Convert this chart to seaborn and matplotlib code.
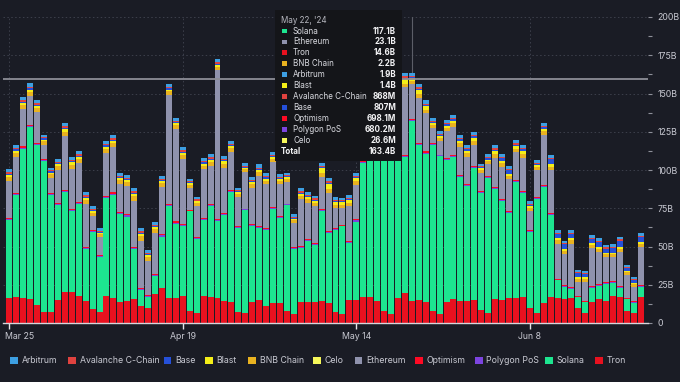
import numpy as np
import pandas as pd
import matplotlib
matplotlib.use("Agg")
import matplotlib.pyplot as plt
import matplotlib.transforms as mtransforms
import seaborn as sns
from matplotlib.patches import Rectangle

# ---------------- data ----------------
dates = pd.date_range("2024-03-25", "2024-06-24", freq="D")
date_labels = [d.strftime("%Y-%m-%d") for d in dates]

xtick_pos = [0, 25, 50, 75]
xtick_labels = ["Mar 25", "Apr 19", "May 14", "Jun 8"]
ytick_vals = [0, 25, 50, 75, 100, 125, 150, 175, 200]
ytick_labels = ["0", "25B", "50B", "75B", "100B", "125B", "150B", "175B", "200B"]

tron = [16.2, 16.8, 16.6, 15.5, 11.8, 7.4, 7.4, 15.0, 20.5, 20.5,
        17.7, 14.6, 9.0, 7.4, 17.7, 16.2, 14.0, 14.6, 15.5, 11.4,
        9.6, 18.8, 23.1, 16.2, 16.2, 17.7, 8.1, 6.8, 17.7, 16.8,
        16.2, 14.6, 14.0, 7.4, 6.8, 14.0, 15.0, 11.1, 12.9, 13.3,
        8.1, 5.7, 14.0, 14.0, 14.0, 14.6, 13.3, 7.4, 5.9, 15.0,
        15.0, 16.8, 17.2, 14.6, 8.1, 5.9, 16.2, 19.4, 14.6, 15.1,
        14.0, 8.1, 5.9, 14.0, 15.5, 14.6, 14.6, 15.1, 8.5, 6.8,
        15.5, 15.1, 16.2, 16.2, 16.8, 9.6, 6.8, 13.3, 16.8, 16.2,
        15.5, 16.2, 9.6, 6.8, 14.0, 15.5, 14.6, 17.7, 17.2, 8.1,
        6.3, 16.8]
solana = [51.3, 67.0, 97.2, 112.4, 104.4, 98.3, 76.4, 62.2, 64.8, 52.4,
          60.3, 33.8, 50.4, 36.0, 64.0, 67.7, 57.4, 55.0, 33.0, 10.3,
          7.2, 11.6, 33.4, 60.0, 48.7, 45.9, 64.8, 48.3, 49.3, 59.4,
          50.2, 56.1, 71.4, 54.6, 66.8, 49.1, 46.9, 49.8, 61.3, 55.2,
          68.8, 42.6, 34.9, 39.7, 37.1, 58.3, 45.4, 53.5, 57.2, 37.1,
          51.3, 88.0, 95.0, 100.0, 108.0, 105.0, 100.0, 89.2, 117.1, 101.0,
          96.7, 108.5, 103.0, 92.4, 93.0, 80.8, 75.1, 86.2, 76.4, 88.0,
          72.0, 64.4, 55.7, 75.8, 68.1, 50.2, 74.2, 75.3, 53.9, 11.6,
          8.3, 5.9, 7.2, 6.6, 8.7, 8.7, 10.9, 8.3, 5.5, 7.4,
          7.0, 7.0]
polygon = [0.7, 0.7, 0.8, 0.8, 0.7, 0.6, 0.6, 0.7, 0.8, 0.7,
           0.7, 0.7, 0.6, 0.6, 0.7, 0.7, 0.7, 0.7, 0.7, 0.6,
           0.6, 0.7, 0.7, 0.8, 0.7, 0.7, 0.6, 0.6, 0.7, 0.7,
           0.8, 0.7, 0.7, 0.6, 0.6, 0.7, 0.7, 0.7, 0.7, 0.7,
           0.6, 0.6, 0.7, 0.7, 0.7, 0.7, 0.7, 0.6, 0.6, 0.7,
           0.7, 0.7, 0.7, 0.7, 0.6, 0.6, 0.7, 0.7, 0.7, 0.7,
           0.7, 0.6, 0.6, 0.7, 0.7, 0.7, 0.7, 0.7, 0.6, 0.6,
           0.7, 0.7, 0.7, 0.7, 0.7, 0.6, 0.6, 0.7, 0.7, 0.6,
           0.6, 0.6, 0.5, 0.5, 0.6, 0.6, 0.6, 0.6, 0.6, 0.5,
           0.5, 0.6]
optimism = [0.7, 0.7, 0.8, 0.8, 0.7, 0.6, 0.6, 0.7, 0.8, 0.7,
            0.7, 0.7, 0.6, 0.6, 0.7, 0.7, 0.7, 0.7, 0.7, 0.6,
            0.6, 0.7, 0.7, 0.8, 0.8, 0.7, 0.6, 0.6, 0.7, 0.7,
            0.8, 0.7, 0.7, 0.6, 0.6, 0.7, 0.7, 0.7, 0.7, 0.7,
            0.6, 0.6, 0.7, 0.7, 0.7, 0.7, 0.7, 0.6, 0.6, 0.7,
            0.7, 0.7, 0.7, 0.7, 0.6, 0.6, 0.7, 0.8, 0.7, 0.7,
            0.7, 0.6, 0.6, 0.7, 0.7, 0.7, 0.7, 0.7, 0.6, 0.6,
            0.7, 0.7, 0.7, 0.7, 0.7, 0.6, 0.6, 0.7, 0.7, 0.6,
            0.6, 0.6, 0.5, 0.5, 0.6, 0.6, 0.6, 0.6, 0.6, 0.5,
            0.5, 0.6]
ethereum = [24.0, 23.4, 24.2, 18.6, 20.0, 9.4, 9.8, 21.2, 35.0, 26.2,
            24.9, 27.7, 9.2, 11.4, 28.0, 29.5, 17.9, 18.6, 29.9, 31.0,
            22.3, 26.9, 31.0, 71.0, 60.5, 42.1, 14.2, 20.0, 32.0, 25.0,
            97.2, 29.5, 24.7, 19.0, 24.0, 24.0, 32.8, 28.4, 29.9, 20.7,
            14.2, 15.9, 30.6, 23.4, 24.0, 21.2, 25.1, 13.1, 10.9, 22.9,
            22.5, 20.0, 22.0, 22.0, 20.0, 22.0, 28.0, 44.0, 23.1, 29.5,
            24.9, 9.8, 8.7, 17.5, 17.9, 18.3, 17.5, 13.8, 12.0, 7.6,
            19.2, 21.2, 20.7, 18.1, 21.8, 12.0, 18.1, 33.0, 27.7, 22.7,
            20.1, 28.6, 9.2, 12.7, 25.1, 21.0, 16.2, 15.7, 22.5, 14.8,
            9.4, 24.5]
celo = [0.03, 0.03, 0.03, 0.03, 0.03, 0.02, 0.02, 0.03, 0.03, 0.03,
        0.03, 0.03, 0.02, 0.02, 0.03, 0.03, 0.03, 0.03, 0.03, 0.02,
        0.02, 0.03, 0.03, 0.03, 0.03, 0.03, 0.02, 0.02, 0.03, 0.03,
        0.03, 0.03, 0.03, 0.02, 0.02, 0.03, 0.03, 0.03, 0.03, 0.03,
        0.02, 0.02, 0.03, 0.03, 0.03, 0.03, 0.03, 0.02, 0.02, 0.03,
        0.03, 0.03, 0.03, 0.03, 0.02, 0.02, 0.03, 0.03, 0.03, 0.03,
        0.03, 0.02, 0.02, 0.03, 0.03, 0.03, 0.03, 0.03, 0.02, 0.02,
        0.03, 0.03, 0.03, 0.03, 0.03, 0.02, 0.02, 0.03, 0.03, 0.03,
        0.03, 0.03, 0.02, 0.02, 0.03, 0.03, 0.03, 0.03, 0.03, 0.02,
        0.02, 0.03]
bnb = [2.6, 2.8, 2.9, 3.0, 2.9, 2.5, 2.4, 2.7, 3.2, 3.0,
       2.9, 2.8, 2.2, 2.1, 2.8, 2.9, 2.6, 2.5, 2.9, 2.8,
       2.6, 2.5, 2.4, 2.5, 2.4, 2.6, 2.0, 2.1, 2.4, 2.6,
       2.2, 2.5, 2.6, 2.1, 1.8, 2.2, 2.4, 2.3, 1.9, 2.1,
       1.9, 1.8, 2.2, 2.2, 2.1, 2.3, 2.4, 2.0, 1.9, 2.2,
       2.3, 2.2, 2.3, 2.2, 2.0, 2.0, 2.3, 2.4, 2.2, 2.6,
       2.4, 2.0, 2.0, 2.3, 2.6, 2.5, 2.4, 2.5, 1.9, 2.0,
       2.4, 2.3, 2.1, 2.4, 2.5, 2.0, 1.8, 2.3, 2.4, 2.2,
       1.9, 2.1, 2.0, 1.8, 2.0, 2.1, 1.9, 1.9, 1.9, 1.8,
       1.7, 1.9]
blast = [1.2, 1.3, 1.3, 1.4, 1.3, 1.1, 1.1, 1.3, 1.5, 1.4,
         1.3, 1.4, 1.1, 1.0, 1.3, 1.4, 1.2, 1.2, 1.6, 1.6,
         1.4, 1.3, 1.2, 1.2, 1.2, 1.4, 1.0, 1.0, 1.3, 1.4,
         1.2, 1.5, 1.4, 1.1, 1.0, 1.3, 1.4, 1.4, 1.0, 1.2,
         1.0, 1.0, 1.3, 1.3, 1.2, 3.4, 3.2, 2.0, 1.9, 1.6,
         2.0, 1.6, 1.6, 1.5, 1.4, 1.4, 1.6, 2.8, 1.4, 2.6,
         2.2, 1.2, 1.2, 1.4, 1.8, 1.6, 1.6, 1.8, 1.0, 1.2,
         1.6, 1.4, 1.3, 1.5, 1.6, 1.2, 0.9, 1.4, 1.6, 1.4,
         1.2, 1.4, 1.3, 1.1, 1.3, 1.3, 1.2, 1.2, 1.3, 1.0,
         1.0, 1.2]
base = [0.8, 0.8, 0.9, 0.9, 0.8, 0.7, 0.7, 0.8, 0.9, 0.8,
        0.8, 0.8, 0.7, 0.6, 0.8, 0.8, 0.8, 0.8, 0.8, 0.7,
        0.7, 0.8, 0.8, 0.9, 0.8, 0.8, 0.6, 0.6, 0.8, 0.8,
        0.8, 0.8, 0.8, 0.6, 0.6, 0.8, 0.8, 0.8, 0.8, 0.8,
        0.6, 0.6, 0.8, 0.8, 0.8, 0.8, 0.8, 0.6, 0.6, 0.8,
        0.8, 0.8, 0.8, 0.8, 0.7, 0.7, 0.8, 0.9, 0.8, 0.9,
        0.9, 0.7, 0.7, 0.9, 1.0, 1.0, 1.0, 1.1, 0.8, 0.9,
        1.2, 2.0, 2.5, 1.2, 1.2, 1.0, 1.0, 1.2, 3.2, 2.8,
        3.2, 2.6, 2.2, 1.8, 2.6, 3.2, 2.6, 3.0, 4.2, 1.6,
        1.5, 3.6]
avalanche = [0.9, 0.9, 1.0, 1.0, 0.9, 0.8, 0.8, 0.9, 1.0, 0.9,
             0.9, 0.9, 0.8, 0.7, 0.9, 0.9, 0.9, 0.9, 0.9, 0.8,
             0.8, 0.9, 0.9, 1.0, 0.9, 0.9, 0.7, 0.7, 0.9, 0.9,
             0.9, 0.9, 0.9, 0.7, 0.7, 0.9, 0.9, 0.9, 0.9, 0.9,
             0.7, 0.7, 0.9, 0.9, 0.9, 0.9, 0.9, 0.7, 0.7, 0.9,
             0.9, 0.9, 0.9, 0.9, 0.8, 0.8, 0.9, 0.9, 0.868, 0.9,
             0.9, 0.8, 0.8, 0.9, 0.9, 0.9, 0.9, 0.9, 0.8, 0.8,
             0.9, 0.9, 0.9, 0.9, 0.9, 0.8, 0.8, 0.9, 0.9, 0.8,
             0.8, 0.8, 0.7, 0.7, 0.8, 0.8, 0.8, 0.8, 0.8, 0.7,
             0.7, 0.8]
arbitrum = [1.9, 2.0, 2.1, 2.2, 2.1, 1.7, 1.6, 1.9, 2.3, 2.1,
            2.0, 2.1, 1.6, 1.5, 2.0, 2.1, 1.8, 1.8, 2.2, 2.2,
            2.0, 1.9, 1.9, 2.0, 1.9, 2.0, 1.5, 1.5, 1.9, 2.0,
            1.9, 2.0, 2.0, 1.5, 1.4, 1.8, 2.0, 1.9, 1.6, 1.7,
            1.5, 1.4, 1.8, 1.8, 1.7, 1.9, 2.0, 1.6, 1.5, 1.8,
            1.9, 1.9, 1.9, 1.9, 1.7, 1.7, 1.9, 2.2, 1.9, 2.1,
            2.0, 1.7, 1.7, 1.9, 2.1, 2.0, 2.0, 2.0, 1.6, 1.7,
            1.9, 1.9, 1.8, 1.9, 2.0, 1.6, 1.5, 1.9, 1.9, 1.7,
            1.6, 1.7, 1.5, 1.4, 1.6, 1.7, 1.6, 1.6, 1.7, 1.4,
            1.3, 1.7]

# stacking order bottom -> top
series_names = ["Tron", "Solana", "Polygon PoS", "Optimism", "Ethereum", "Celo",
                "BNB Chain", "Blast", "Base", "Avalanche C-Chain", "Arbitrum"]
series_values = [tron, solana, polygon, optimism, ethereum, celo,
                 bnb, blast, base, avalanche, arbitrum]
colors = {
    "Arbitrum": "#3d9fe2",
    "Avalanche C-Chain": "#e0423f",
    "Base": "#2550d9",
    "Blast": "#f4ee18",
    "BNB Chain": "#e9b220",
    "Celo": "#f6f75a",
    "Ethereum": "#8f92ad",
    "Optimism": "#ff0a24",
    "Polygon PoS": "#7c44e0",
    "Solana": "#1de590",
    "Tron": "#e8111f",
}
legend_names = ["Arbitrum", "Avalanche C-Chain", "Base", "Blast", "BNB Chain", "Celo",
                "Ethereum", "Optimism", "Polygon PoS", "Solana", "Tron"]

hover_index = 58
hover_level = 159.5
tooltip_title = "May 22, '24"
tooltip_names = ["Solana", "Ethereum", "Tron", "BNB Chain", "Arbitrum", "Blast",
                 "Avalanche C-Chain", "Base", "Optimism", "Polygon PoS", "Celo"]
tooltip_values = ["117.1B", "23.1B", "14.6B", "2.2B", "1.9B", "1.4B",
                  "868M", "807M", "698.1M", "680.2M", "26.6M"]
tooltip_total = "163.4B"

# ---------------- style ----------------
BG = "#1a1c25"
TXT = "#c8c9d2"
sns.set_theme(style="dark")
plt.rcParams["font.family"] = ["Inter", "DejaVu Sans"]

W, H = 680, 382
fig = plt.figure(figsize=(W / 100, H / 100), dpi=100, facecolor=BG)

def fx(px):
    return px / W

def fy(py):
    return 1 - py / H

ax = fig.add_axes([fx(3), fy(323), (648 - 3) / W, (323 - 17) / H])
ax.set_facecolor(BG)

df = pd.DataFrame({"date": date_labels})
cum = np.zeros(len(date_labels))
cums = []
for name, vals in zip(series_names, series_values):
    cum = cum + np.array(vals, dtype=float)
    cums.append((name, cum.copy()))

# draw from top layer to bottom so lower layers overlay
for z, (name, c) in enumerate(reversed(cums)):
    df["v"] = c
    sns.barplot(data=df, x="date", y="v", color=colors[name], saturation=1,
                width=0.86, linewidth=0, errorbar=None, ax=ax, zorder=2 + z * 0.01)

ax.set_xlim(-0.908, 92.03)
ax.set_ylim(0, 200)
ax.set_xlabel("")
ax.set_ylabel("")

ax.set_xticks(xtick_pos)
ax.set_xticklabels(xtick_labels)
ax.yaxis.tick_right()
ax.set_yticks(ytick_vals)
ax.set_yticklabels(ytick_labels)
ax.set_yticks(np.arange(12.5, 200, 25), minor=True)
ax.tick_params(axis="x", which="both", length=4, width=1, color="#e6e6ea",
               labelcolor=TXT, labelsize=6.3, pad=2.5, bottom=True)
ax.tick_params(axis="y", which="both", length=3, width=0.8, color="#8e909a",
               labelcolor=TXT, labelsize=6.3, pad=4, right=True, left=False)
for lab in ax.get_yticklabels():
    lab.set_horizontalalignment("left")
first = ax.get_xticklabels()[0]
first.set_horizontalalignment("left")
first.set_transform(first.get_transform() +
                    mtransforms.ScaledTranslation(-4 / 100, 0, fig.dpi_scale_trans))

for s in ["top", "left", "right"]:
    ax.spines[s].set_visible(False)
ax.spines["bottom"].set_color("#d6d6dc")
ax.spines["bottom"].set_linewidth(1.0)

ax.set_axisbelow(True)
ax.grid(axis="y", which="major", color="#3d404c", linestyle=(0, (1.5, 2.5)), linewidth=0.7)
ax.grid(axis="x", which="major", color="#3d404c", linestyle=(0, (1.5, 2.5)), linewidth=0.7)

# crosshair
ax.axvline(hover_index, color="#5c5e68", lw=0.8, zorder=1)
ax.axhline(hover_level, color="#8d8e96", lw=1.3, zorder=6)

# ---------------- tooltip ----------------
fig.add_artist(Rectangle((fx(275), fy(161)), (402 - 275) / W, (161 - 10) / H,
                         transform=fig.transFigure, facecolor="#141519",
                         edgecolor="none", zorder=10))
fig.text(fx(281), fy(20.5), tooltip_title, color="#b7b8c0", fontsize=5.8,
         va="center", ha="left", zorder=11)
row_y = [31, 42, 52.7, 63.7, 74.3, 85.5, 96.5, 107.5, 118.5, 129.3, 140.2]
for name, val, yy in zip(tooltip_names, tooltip_values, row_y):
    fig.add_artist(Rectangle((fx(282), fy(yy + 2.3)), 5 / W, 4.6 / H,
                             transform=fig.transFigure, facecolor=colors[name],
                             edgecolor="none", zorder=11))
    fig.text(fx(293), fy(yy), name, color="#d9dae0", fontsize=5.8,
             va="center", ha="left", zorder=11)
    fig.text(fx(396), fy(yy), val, color="#f2f2f4", fontsize=5.8,
             fontweight="bold", va="center", ha="right", zorder=11)
fig.text(fx(281), fy(151), "Total", color="#f2f2f4", fontsize=5.8,
         fontweight="bold", va="center", ha="left", zorder=11)
fig.text(fx(396), fy(151), tooltip_total, color="#f2f2f4", fontsize=5.8,
         fontweight="bold", va="center", ha="right", zorder=11)

# ---------------- legend ----------------
leg_sq_x = [10, 68, 163.5, 205, 248.5, 313, 354.7, 415.4, 475, 545, 595]
leg_y = 360.5
for name, sx in zip(legend_names, leg_sq_x):
    fig.add_artist(Rectangle((fx(sx), fy(leg_y + 3.8)), 7.5 / W, 7.6 / H,
                             transform=fig.transFigure, facecolor=colors[name],
                             edgecolor="none"))
    fig.text(fx(sx + 11.5), fy(leg_y), name, color=TXT, fontsize=6.3,
             va="center", ha="left")

fig.savefig("out.png", dpi=100, facecolor=BG)
